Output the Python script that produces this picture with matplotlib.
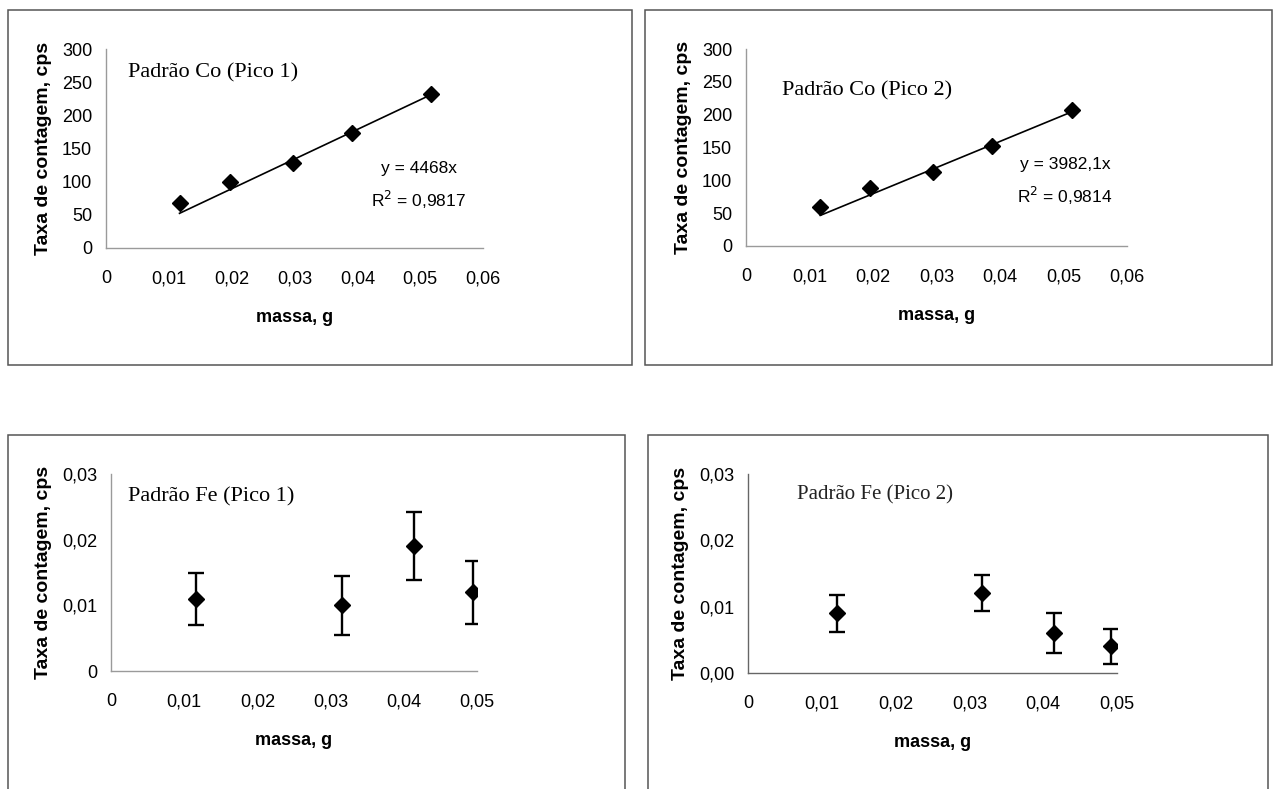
import numpy as np
import matplotlib
matplotlib.use('Agg')
import matplotlib.pyplot as plt
from matplotlib.patches import Rectangle

# data
co1_massa = [0.0117, 0.0198, 0.0297, 0.0392, 0.0517]
co1_taxa = [68, 100, 128, 174, 232]
co1_slope = 4468.0
co1_r2 = "0,9817"

co2_massa = [0.0117, 0.0195, 0.0294, 0.0387, 0.0513]
co2_taxa = [59, 88, 113, 152, 207]
co2_slope = 3982.1
co2_r2 = "0,9814"

fe1_massa = [0.0116, 0.0315, 0.0414, 0.0494]
fe1_taxa = [0.011, 0.010, 0.019, 0.012]
fe1_err = [0.004, 0.0045, 0.0052, 0.0048]

fe2_massa = [0.0120, 0.0317, 0.0415, 0.0492]
fe2_taxa = [0.009, 0.012, 0.006, 0.004]
fe2_err = [0.0028, 0.0027, 0.003, 0.0026]

co_xticks = [0, 0.01, 0.02, 0.03, 0.04, 0.05, 0.06]
co_yticks = [0, 50, 100, 150, 200, 250, 300]
fe_xticks = [0, 0.01, 0.02, 0.03, 0.04, 0.05]
fe_yticks = [0, 0.01, 0.02, 0.03]

W, H = 1279, 789
fig = plt.figure(figsize=(W / 100, H / 100), dpi=100)
fig.patch.set_facecolor('white')


def px_axes(x0, x1, y0, y1):
    # x0,x1 horizontal pixel span; y0 = pixel row of the bottom, y1 = top
    return fig.add_axes([x0 / W, 1 - y0 / H, (x1 - x0) / W, (y0 - y1) / H])


def fmt(v, nd):
    if v == 0 and nd is None:
        return "0"
    return f"{v:.{nd}f}".replace('.', ',')


def style(ax, xticks, yticks, ylab_fmt):
    for s in ['top', 'right']:
        ax.spines[s].set_visible(False)
    for s in ['left', 'bottom']:
        ax.spines[s].set_color('#9a9a9a')
        ax.spines[s].set_linewidth(1.0)
    ax.set_xticks(xticks)
    ax.set_xticklabels(["0"] + [fmt(v, 2) for v in xticks[1:]])
    ax.set_yticks(yticks)
    ax.set_yticklabels([ylab_fmt(v) for v in yticks])
    ax.tick_params(axis='x', length=0, pad=16, labelsize=13)
    ax.tick_params(axis='y', length=0, pad=10, labelsize=13)
    for lbl in ax.get_xticklabels() + ax.get_yticklabels():
        lbl.set_fontfamily('Liberation Sans')
    ax.set_xlabel('massa, g', fontsize=13, fontweight='bold',
                  fontfamily='Liberation Sans', labelpad=16)
    ax.set_ylabel('Taxa de contagem, cps', fontsize=14, fontweight='bold',
                  fontfamily='Liberation Sans', labelpad=7)
    ax.patch.set_alpha(0)


serif = 'Liberation Serif'
eq_kw = dict(fontsize=12.5, fontfamily='Liberation Sans', ha='center',
             va='center', linespacing=1.7)

# --- Co pico 1
ax1 = px_axes(106, 483, 248, 49)
ax1.plot(co1_massa, co1_taxa, 'D', color='black', ms=8)
xs = np.array([co1_massa[0], co1_massa[-1]])
ax1.plot(xs, co1_slope * xs, color='black', lw=1.2)
ax1.set_xlim(0, 0.06)
ax1.set_ylim(0, 300)
style(ax1, co_xticks, co_yticks, lambda v: str(v))
ax1.text(0.058, 0.88, 'Padrão Co (Pico 1)', transform=ax1.transAxes,
         fontsize=16, fontfamily=serif, va='center')
ax1.text(0.83, 0.31, 'y = 4468x\nR$^2$ = ' + co1_r2, transform=ax1.transAxes, **eq_kw)

# --- Co pico 2
ax2 = px_axes(746, 1127, 246, 49)
ax2.plot(co2_massa, co2_taxa, 'D', color='black', ms=8)
xs = np.array([co2_massa[0], co2_massa[-1]])
ax2.plot(xs, co2_slope * xs, color='black', lw=1.2)
ax2.set_xlim(0, 0.06)
ax2.set_ylim(0, 300)
style(ax2, co_xticks, co_yticks, lambda v: str(v))
ax2.text(0.094, 0.79, 'Padrão Co (Pico 2)', transform=ax2.transAxes,
         fontsize=16, fontfamily=serif, va='center')
ax2.text(0.837, 0.325, 'y = 3982,1x\nR$^2$ = ' + co2_r2, transform=ax2.transAxes, **eq_kw)

# --- Fe pico 1
ax3 = px_axes(111, 477, 671, 474)
ax3.errorbar(fe1_massa, fe1_taxa, yerr=fe1_err, fmt='D', color='black',
             ms=8, capsize=5.5, elinewidth=1.7, capthick=1.7)
ax3.set_xlim(0, 0.05)
ax3.set_ylim(0, 0.03)
style(ax3, fe_xticks, fe_yticks, lambda v: fmt(v, None) if v == 0 else fmt(v, 2))
ax3.text(0.046, 0.883, 'Padrão Fe (Pico 1)', transform=ax3.transAxes,
         fontsize=16, fontfamily=serif, va='center')

# --- Fe pico 2
ax4 = px_axes(748, 1117, 673, 474)
ax4.errorbar(fe2_massa, fe2_taxa, yerr=fe2_err, fmt='D', color='black',
             ms=8, capsize=5.5, elinewidth=1.7, capthick=1.7)
ax4.set_xlim(0, 0.05)
ax4.set_ylim(0, 0.03)
style(ax4, fe_xticks, fe_yticks, lambda v: fmt(v, 2))
ax4.spines['left'].set_color('#666666')
ax4.spines['bottom'].set_color('#666666')
ax4.text(0.133, 0.894, 'Padrão Fe (Pico 2)', transform=ax4.transAxes,
         fontsize=15, fontfamily=serif, va='center', color='#222222')

# frames around each panel (as on the scanned page)
for (x0, y0, x1, y1) in [(8, 10, 632, 365), (645, 10, 1272, 365),
                         (8, 435, 625, 795), (648, 435, 1268, 795)]:
    fig.add_artist(Rectangle((x0 / W, 1 - y1 / H), (x1 - x0) / W, (y1 - y0) / H,
                             transform=fig.transFigure, fill=False,
                             edgecolor='#555555', lw=1.1))

fig.savefig('out.png', dpi=100, facecolor='white')
